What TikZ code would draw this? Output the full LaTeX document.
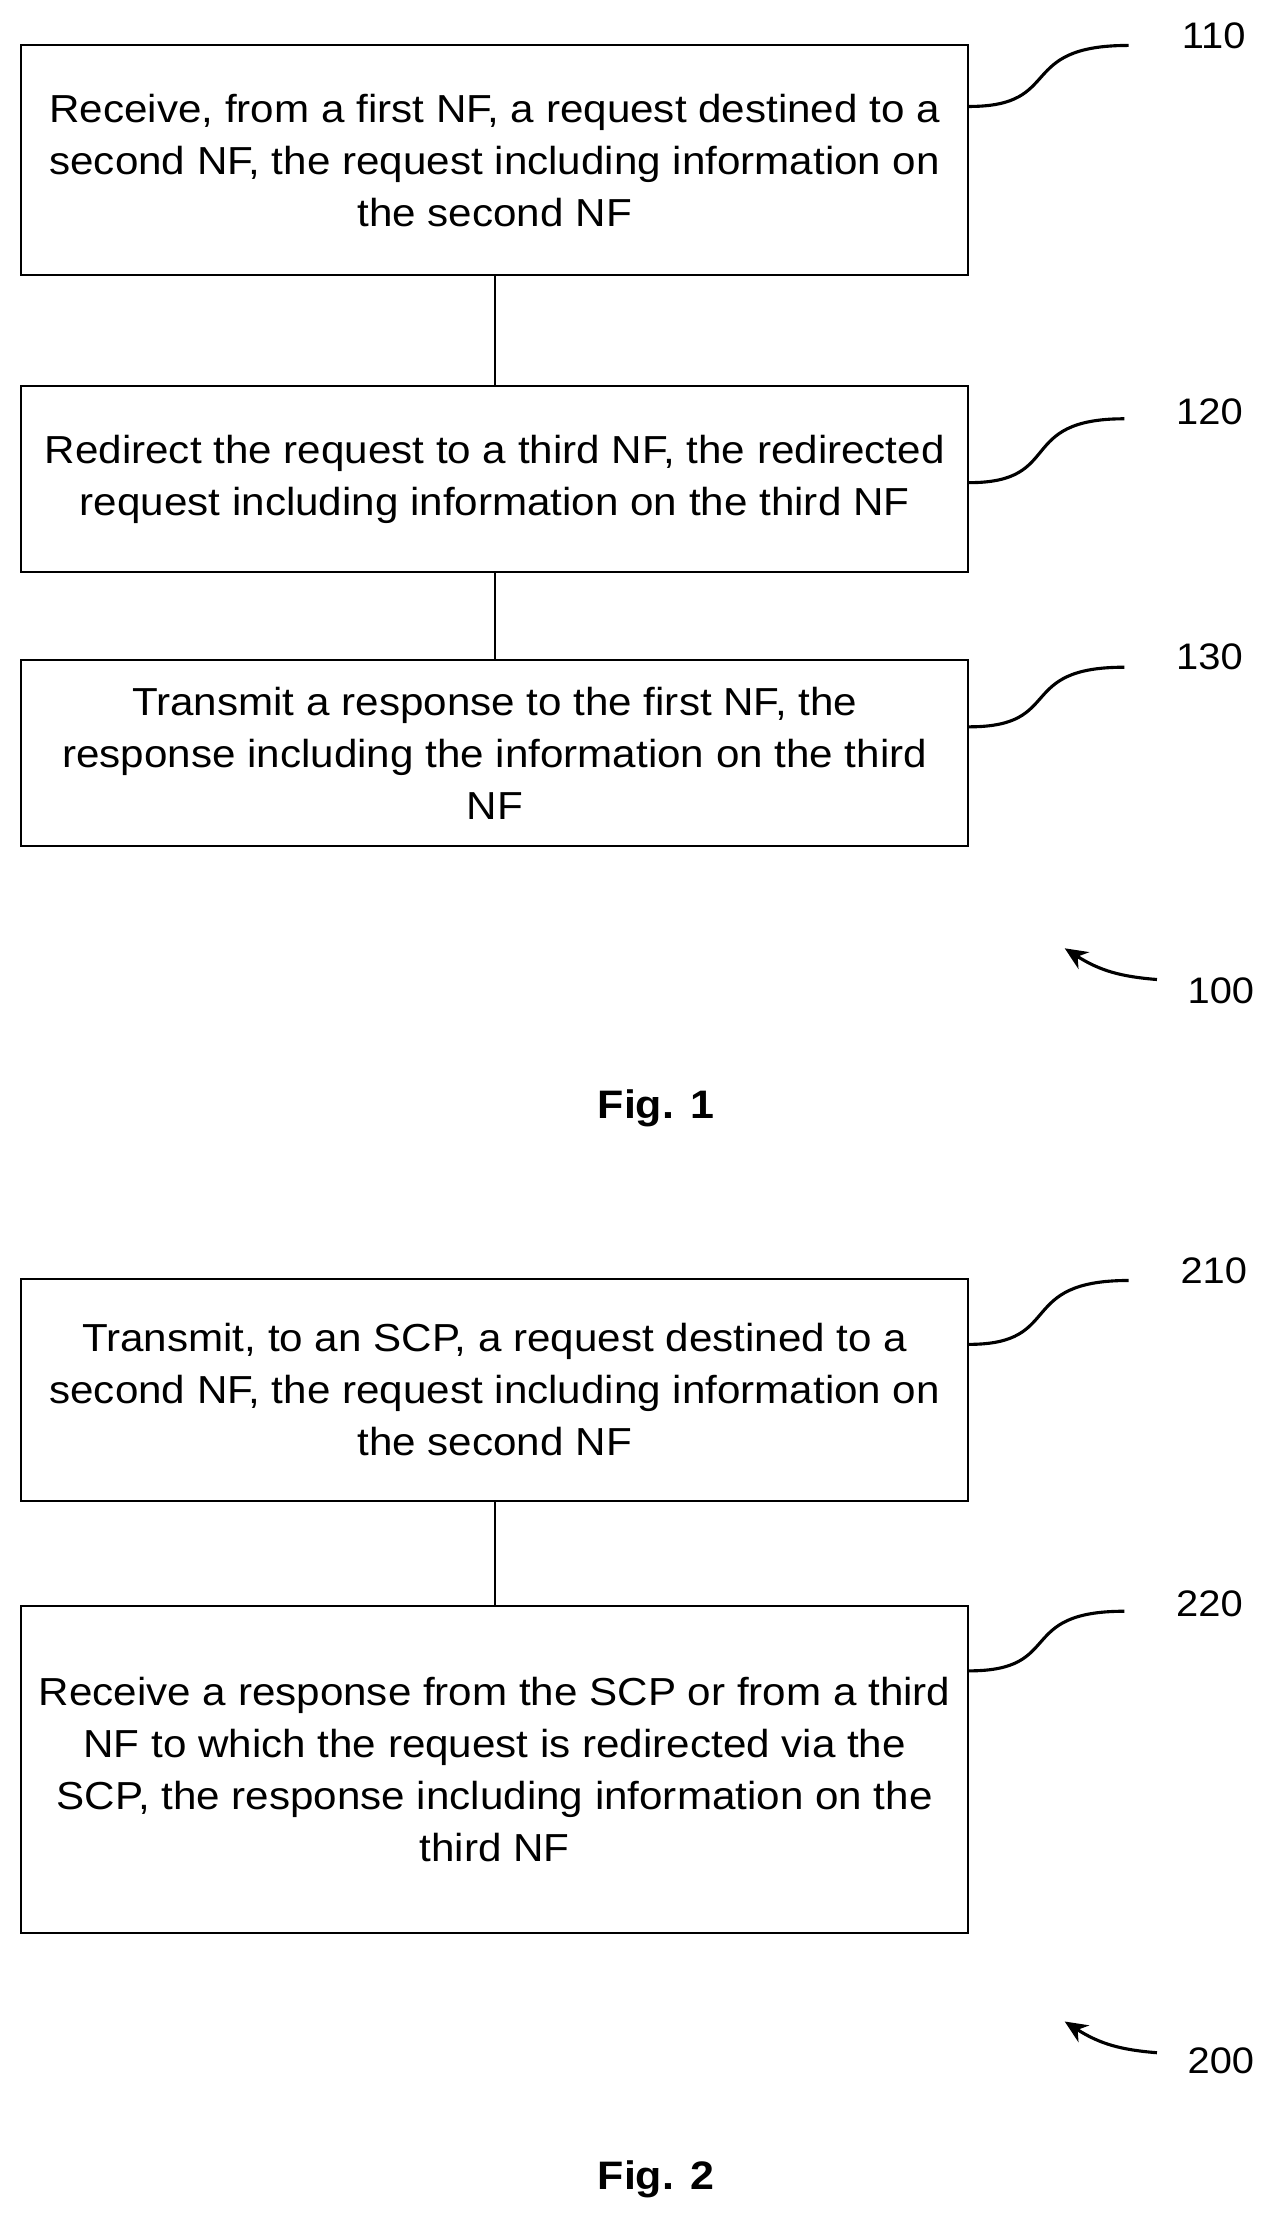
\documentclass[tikz,border=0pt]{standalone}
\usepackage{fontspec}
\setmainfont{Liberation Sans}[FakeStretch=1.08]
\usetikzlibrary{arrows.meta}
\begin{document}
\begin{tikzpicture}[x=1pt,y=-1pt,
  box/.style={draw,line width=1.4pt,minimum width=667pt,inner sep=0pt,align=center,font=\fontsize{27.5}{36.5}\selectfont},
  conn/.style={line width=1.4pt},
  lbl/.style={font=\fontsize{26}{30}\selectfont},
  wave/.style={line width=2.2pt},
  ptr/.style={line width=2.2pt,-{Stealth[length=16pt,width=14pt]}}]
\useasboundingbox (0,0) rectangle (900,1573);
\node[box,minimum height=162pt] (b1) at (348.5,113) {Receive, from a first NF, a request destined to a\\second NF, the request including information on\\the second NF};
\node[box,minimum height=131pt] (b2) at (348.5,337.5) {Redirect the request to a third NF, the redirected\\request including information on the third NF};
\node[box,minimum height=131pt] (b3) at (348.5,530.5) {Transmit a response to the first NF, the\\response including the information on the third\\NF};
\node[box,minimum height=156pt] (b4) at (348.5,979) {Transmit, to an SCP, a request destined to a\\second NF, the request including information on\\the second NF};
\node[box,minimum height=231pt] (b5) at (348.5,1246.5) {Receive a response from the SCP or from a third\\NF to which the request is redirected via the\\SCP, the response including information on the\\third NF};
\draw[conn] (b1) -- (b2);
\draw[conn] (b2) -- (b3);
\draw[conn] (b4) -- (b5);
\node[lbl] (l110) at (855,25) {110};
\node[lbl] (l120) at (852,290) {120};
\node[lbl] (l130) at (852,463) {130};
\node[lbl] (l210) at (855,895) {210};
\node[lbl] (l220) at (852,1130) {220};
\node[lbl] (l100) at (860,698) {100};
\node[lbl] (l200) at (860,1452) {200};
\coordinate (w1) at (795,32);
\coordinate (w2) at (792,295);
\coordinate (w3) at (792,470);
\coordinate (w4) at (795,902);
\coordinate (w5) at (792,1135);
\draw[wave] (b1.east |- 0,75) .. controls (750,75) and (715,32) .. (w1);
\draw[wave] (b2.east |- 0,340) .. controls (750,340) and (715,295) .. (w2);
\draw[wave] (b3.east |- 0,512) .. controls (750,512) and (715,470) .. (w3);
\draw[wave] (b4.east |- 0,947) .. controls (750,947) and (715,902) .. (w4);
\draw[wave] (b5.east |- 0,1177) .. controls (750,1177) and (715,1135) .. (w5);
\coordinate (a1) at (815,690);
\coordinate (a1e) at (750,668);
\coordinate (a2) at (815,1446);
\coordinate (a2e) at (750,1424);
\draw[ptr] (a1) .. controls (790,688) and (775,684) .. (a1e);
\draw[ptr] (a2) .. controls (790,1444) and (775,1440) .. (a2e);
\node[font=\bfseries\fontsize{28}{30}\selectfont] (f1) at (462,781) {Fig. 1};
\node[font=\bfseries\fontsize{28}{30}\selectfont] (f2) at (462,1535) {Fig. 2};
\end{tikzpicture}
\end{document}
